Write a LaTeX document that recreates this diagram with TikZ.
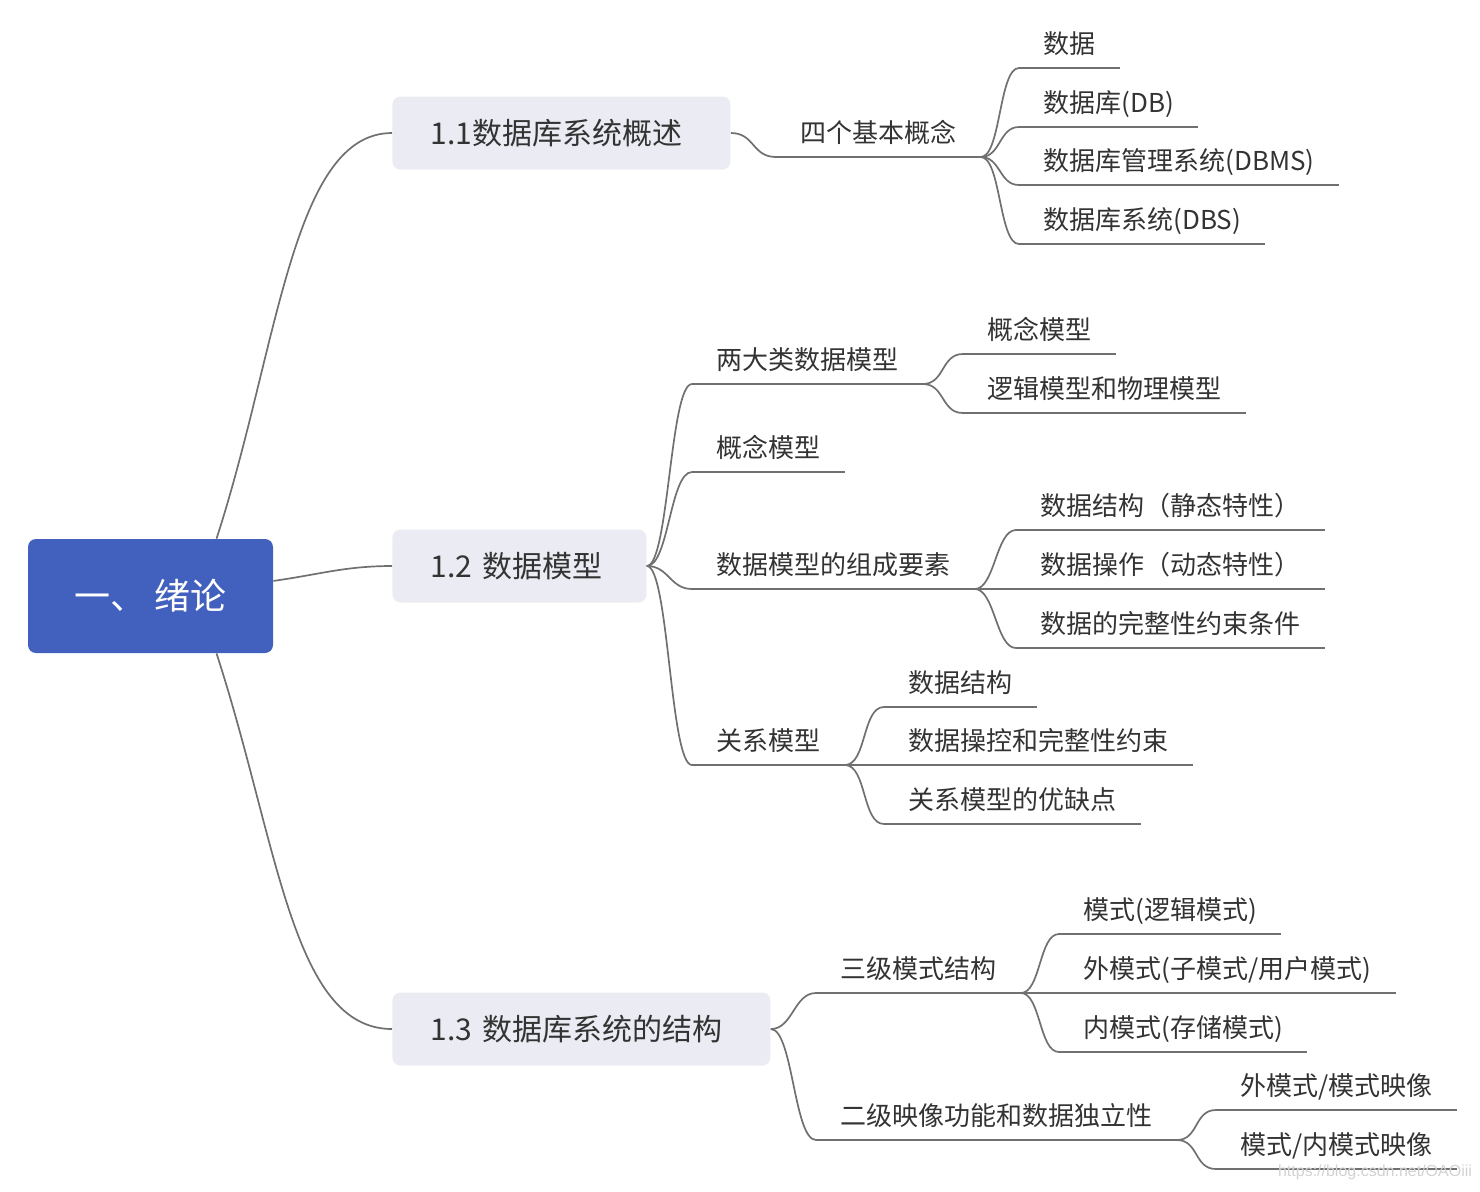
\documentclass[tikz,border=0pt]{standalone}
\usepackage{fontspec}
\setmainfont{Noto Sans CJK SC}
\newfontfamily\markfont{Liberation Sans}
\usetikzlibrary{positioning}
\definecolor{rootblue}{RGB}{66,96,189}
\definecolor{boxgray}{RGB}{235,236,243}
\definecolor{linegray}{RGB}{112,112,112}
\definecolor{textgray}{RGB}{51,51,51}

\begin{document}
\begin{tikzpicture}[x=0.5pt, y=0.5pt,
        every node/.style={text=textgray},
        branch/.style={draw=linegray, line width=0.85pt},
        fork/.style={out=0, in=180, distance=#1},
        root/.style={fill=rootblue, rounded corners=4pt, minimum width=122.5pt, minimum height=57pt, text=white, font=\fontsize{18}{18}\selectfont},
        main/.style={fill=boxgray, rounded corners=4pt, anchor=west, align=left, minimum height=36.5pt, inner xsep=19pt, text width=#1, font=\fontsize{15}{15}\selectfont},
        topic/.style={anchor=south west, inner xsep=12pt, inner ysep=5.25pt, text height=11pt, text depth=2pt, font=\fontsize{13}{13}\selectfont,
                append after command={(\tikzlastnode.south west) edge[branch] (\tikzlastnode.south east)}}]
        \useasboundingbox (0,0) rectangle (1480,-1191);

        % root and main topics
        \node[root]             (root)  at (150.5,-596)     {一、 绪论};
        \node[main=131pt]       (n11)   at (392,-133)       {1.1数据库系统概述};
        \node[main=89pt]        (n12)   at (392,-566)       {1.2 数据模型};
        \node[main=151pt]       (n13)   at (392,-1029)      {1.3 数据库系统的结构};

        % 1.1
        \node[topic]            (basic) at (776,-157)       {四个基本概念};
        \node[topic]            (data)  at (1019,-68)       {数据};
        \node[topic]            (db)    at (1019,-127)      {数据库(DB)};
        \node[topic]            (dbms)  at (1019,-185)      {数据库管理系统(DBMS)};
        \node[topic]            (dbs)   at (1019,-244)      {数据库系统(DBS)};

        % 1.2
        \node[topic]            (two)   at (692,-384)       {两大类数据模型};
        \node[topic]            (cm)    at (963,-354)       {概念模型};
        \node[topic]            (lpm)   at (963,-413)       {逻辑模型和物理模型};
        \node[topic]            (concept) at (692,-472)     {概念模型};
        \node[topic]            (parts) at (692,-589)       {数据模型的组成要素};
        \node[topic]            (struct) at (1016,-530)     {数据结构（静态特性）};
        \node[topic]            (oper)  at (1016,-589)      {数据操作（动态特性）};
        \node[topic]            (integ) at (1016,-648)      {数据的完整性约束条件};
        \node[topic]            (rel)   at (692,-765)       {关系模型};
        \node[topic]            (rstruct) at (884,-707)     {数据结构};
        \node[topic]            (rctrl) at (884,-765)       {数据操控和完整性约束};
        \node[topic]            (rpros) at (884,-824)       {关系模型的优缺点};

        % 1.3
        \node[topic]            (three) at (816,-993)       {三级模式结构};
        \node[topic]            (schema) at (1059,-934)     {模式(逻辑模式)};
        \node[topic]            (ext)   at (1059,-993)      {外模式(子模式/用户模式)};
        \node[topic]            (inner) at (1059,-1052)     {内模式(存储模式)};
        \node[topic]            (map)   at (816,-1140)      {二级映像功能和数据独立性};
        \node[topic]            (extmap) at (1216,-1110)    {外模式/模式映像};
        \node[topic]            (inmap) at (1216,-1169)     {模式/内模式映像};

        \node[text=gray!35, font=\markfont\fontsize{8}{8}\selectfont] (mark) at (1375,-1172) {https://blog.csdn.net/OAOiii};

        \path[branch]
                (root.41) edge[out=72, in=180, out distance=100pt, in distance=50pt]    (n11.west)
                (root.7)  edge[out=8, in=180]                                           (n12.west)
                (root.-41) edge[out=-72, in=180, out distance=100pt, in distance=50pt]  (n13.west)
                (n11.east) edge[fork=12pt]          (basic.south west)
                (basic.south east) edge[fork=10pt]  (data.south west)
                (basic.south east) edge[fork=10pt]  (db.south west)
                (basic.south east) edge[fork=10pt]  (dbms.south west)
                (basic.south east) edge[fork=10pt]  (dbs.south west)
                (n12.east) edge[fork=11pt]          (two.south west)
                (n12.east) edge[fork=11pt]          (concept.south west)
                (n12.east) edge[fork=11pt]          (parts.south west)
                (n12.east) edge[fork=11pt]          (rel.south west)
                (two.south east) edge[fork=11pt]    (cm.south west)
                (two.south east) edge[fork=11pt]    (lpm.south west)
                (parts.south east) edge[fork=10pt]  (struct.south west)
                (parts.south east) edge[fork=10pt]  (oper.south west)
                (parts.south east) edge[fork=10pt]  (integ.south west)
                (rel.south east) edge[fork=11pt]    (rstruct.south west)
                (rel.south east) edge[fork=11pt]    (rctrl.south west)
                (rel.south east) edge[fork=11pt]    (rpros.south west)
                (n13.east) edge[fork=11pt]          (three.south west)
                (n13.east) edge[fork=11pt]          (map.south west)
                (three.south east) edge[fork=10pt]  (schema.south west)
                (three.south east) edge[fork=10pt]  (ext.south west)
                (three.south east) edge[fork=10pt]  (inner.south west)
                (map.south east) edge[fork=11pt]    (extmap.south west)
                (map.south east) edge[fork=11pt]    (inmap.south west);
\end{tikzpicture}
\end{document}
